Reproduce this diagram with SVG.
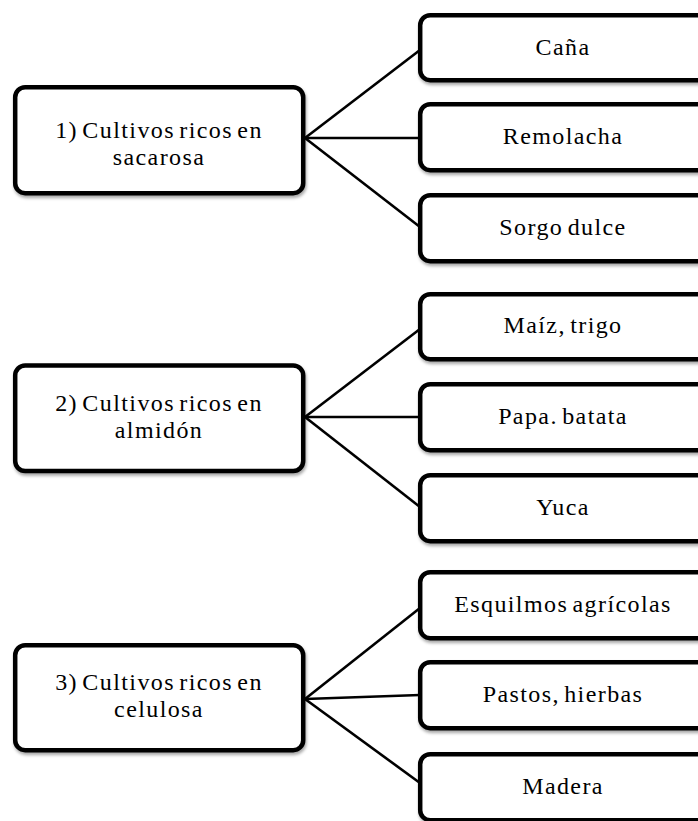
<svg xmlns="http://www.w3.org/2000/svg" width="698" height="821" viewBox="0 0 698 821">
<defs>
<filter id="sh" x="-5%" y="-10%" width="115%" height="130%">
<feDropShadow dx="1" dy="2.5" stdDeviation="1.5" flood-color="#000" flood-opacity="0.35"/>
</filter>
</defs>
<style>
.box{fill:#fff;stroke:#000;stroke-width:4.5;filter:url(#sh)}
.t{font-family:'Liberation Serif','Times New Roman','DejaVu Serif',serif;font-size:24px;fill:#000;text-anchor:middle;letter-spacing:1.4px;word-spacing:-3px}
.c{stroke:#000;stroke-width:2.6;fill:none}
</style>
<rect width="698" height="821" fill="#fff"/>
<g id="connectors">
<line class="c" x1="305" y1="138" x2="420" y2="50"/>
<line class="c" x1="305" y1="138" x2="420" y2="138"/>
<line class="c" x1="305" y1="138" x2="420" y2="227"/>
<line class="c" x1="305" y1="417" x2="420" y2="329"/>
<line class="c" x1="305" y1="417" x2="420" y2="417"/>
<line class="c" x1="305" y1="417" x2="420" y2="507"/>
<line class="c" x1="305" y1="699" x2="420" y2="608"/>
<line class="c" x1="305" y1="699" x2="420" y2="695"/>
<line class="c" x1="305" y1="699" x2="420" y2="783"/>
</g>
<g id="n1"><rect class="box" x="15.2" y="87.2" width="288" height="106" rx="10"/><text class="t" x="159" y="138">1) Cultivos ricos en</text><text class="t" x="159" y="165">sacarosa</text></g>
<g id="n2"><rect class="box" x="15.2" y="365.5" width="288" height="105.5" rx="10"/><text class="t" x="159" y="411">2) Cultivos ricos en</text><text class="t" x="159" y="438">almidón</text></g>
<g id="n3"><rect class="box" x="15.2" y="645.2" width="288" height="105" rx="10"/><text class="t" x="159" y="690">3) Cultivos ricos en</text><text class="t" x="159" y="717">celulosa</text></g>
<g id="r1"><rect class="box" x="420.2" y="15.2" width="290" height="65" rx="10"/><text class="t" x="563" y="55">Caña</text></g>
<g id="r2"><rect class="box" x="420.2" y="104.2" width="290" height="66" rx="10"/><text class="t" x="563" y="144">Remolacha</text></g>
<g id="r3"><rect class="box" x="420.2" y="195.2" width="290" height="66" rx="10"/><text class="t" x="563" y="235">Sorgo dulce</text></g>
<g id="r4"><rect class="box" x="420.2" y="294.2" width="290" height="65" rx="10"/><text class="t" x="563" y="333">Maíz, trigo</text></g>
<g id="r5"><rect class="box" x="420.2" y="384.2" width="290" height="66" rx="10"/><text class="t" x="563" y="424">Papa. batata</text></g>
<g id="r6"><rect class="box" x="420.2" y="475.2" width="290" height="66" rx="10"/><text class="t" x="563" y="515">Yuca</text></g>
<g id="r7"><rect class="box" x="420.2" y="572.2" width="290" height="66" rx="10"/><text class="t" x="563" y="612">Esquilmos agrícolas</text></g>
<g id="r8"><rect class="box" x="420.2" y="662.2" width="290" height="66" rx="10"/><text class="t" x="563" y="702">Pastos, hierbas</text></g>
<g id="r9"><rect class="box" x="420.2" y="754.2" width="290" height="66" rx="10"/><text class="t" x="563" y="794">Madera</text></g>
</svg>
